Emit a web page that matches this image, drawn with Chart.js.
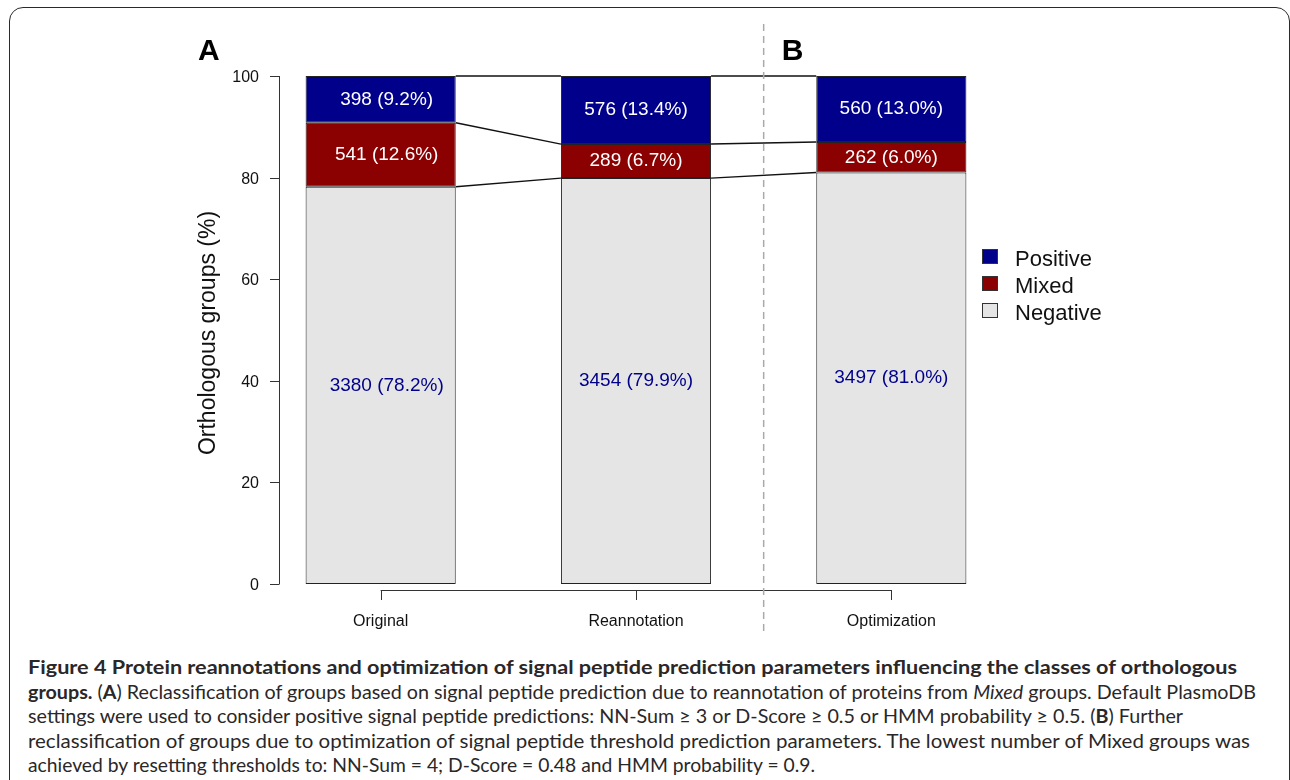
<!DOCTYPE html>
<html>
<head>
<meta charset="utf-8">
<script src="https://cdn.jsdelivr.net/npm/chart.js@4.4.1/dist/chart.umd.min.js"></script>
<style>
html,body{margin:0;padding:0;background:#fff;}
#wrap{position:relative;width:1290px;height:780px;overflow:hidden;background:#fff;}
#frame{position:absolute;left:9px;top:7px;width:1281px;height:820px;border:1.6px solid #2a2a2a;border-radius:14px;box-sizing:border-box;}
#c{position:absolute;left:0;top:0;width:1290px;height:650px;}
.cap{position:absolute;left:28px;width:3000px;font-family:Lato,"Open Sans",sans-serif;font-size:19px;color:#2a2728;white-space:nowrap;transform-origin:0 50%;}
.cap span.t{display:inline;}
.cap b{font-weight:700;}
.ge{font-family:Lato,"DejaVu Sans",sans-serif;}
</style>
</head>
<body>
<div id="wrap">
  <div id="frame"></div>
  <canvas id="c" width="1290" height="650"></canvas>
  <div class="cap" style="top:655px"><span class="t"><b>Figure 4 Protein reannotations and optimization of signal peptide prediction parameters influencing the classes of orthologous</b></span></div>
  <div class="cap" style="top:680px"><span class="t"><b>groups.</b> (<b>A</b>) Reclassification of groups based on signal peptide prediction due to reannotation of proteins from <i>Mixed</i> groups. Default PlasmoDB</span></div>
  <div class="cap" style="top:704px"><span class="t">settings were used to consider positive signal peptide predictions: NN-Sum <span class="ge">≥</span> 3 or D-Score <span class="ge">≥</span> 0.5 or HMM probability <span class="ge">≥</span> 0.5. (<b>B</b>) Further</span></div>
  <div class="cap" style="top:729px"><span class="t">reclassification of groups due to optimization of signal peptide threshold prediction parameters. The lowest number of Mixed groups was</span></div>
  <div class="cap" style="top:753px"><span class="t">achieved by resetting thresholds to: NN-Sum = 4; D-Score = 0.48 and HMM probability = 0.9.</span></div>
</div>
<script>
// ---- data ----
const categories = ['Original', 'Reannotation', 'Optimization'];
const seriesNames = ['Positive', 'Mixed', 'Negative'];
const negativeCounts = [3380, 3454, 3497];
const negativePct = [78.2, 79.9, 81.0];
const mixedCounts = [541, 289, 262];
const mixedPct = [12.6, 6.7, 6.0];
const positiveCounts = [398, 576, 560];
const positivePct = [9.2, 13.4, 13.0];
const yTicks = [0, 20, 40, 60, 80, 100];
const yTitle = 'Orthologous groups (%)';
const panelLabels = ['A', 'B'];

// ---- caption width fitting ----
const capWidths = [1209, 1228, 1155, 1222, 787];
function fitCaption() {
  document.querySelectorAll('.cap').forEach((el, i) => {
    el.style.transform = 'none';
    const span = el.querySelector('.t');
    const w = span.getBoundingClientRect().width;
    if (w > 0) el.style.transform = 'scaleX(' + (capWidths[i] / w) + ')';
  });
}
fitCaption();
if (document.fonts && document.fonts.ready) document.fonts.ready.then(fitCaption);
window.addEventListener('load', fitCaption);

const COL_POS = '#00008B', COL_MIX = '#8B0000', COL_NEG = '#E5E5E5';
const FONT = '"Liberation Sans", Arial, Helvetica, sans-serif';

const overlay = {
  id: 'overlay',
  afterDatasetsDraw(chart) {
    const ctx = chart.ctx;
    const y = chart.scales.y;
    const ca = chart.chartArea;
    const mNeg = chart.getDatasetMeta(0).data;
    const counts = [negativeCounts, mixedCounts, positiveCounts];
    const pcts = [negativePct, mixedPct, positivePct];
    ctx.save();

    // connecting lines between bars
    ctx.strokeStyle = '#111';
    ctx.lineWidth = 1.4;
    for (let i = 0; i < categories.length - 1; i++) {
      const a = mNeg[i], b = mNeg[i + 1];
      const xa = a.x + a.width / 2, xb = b.x - b.width / 2;
      const levA = [negativePct[i], negativePct[i] + mixedPct[i], negativePct[i] + mixedPct[i] + positivePct[i]];
      const levB = [negativePct[i + 1], negativePct[i + 1] + mixedPct[i + 1], negativePct[i + 1] + mixedPct[i + 1] + positivePct[i + 1]];
      for (let k = 0; k < 3; k++) {
        ctx.beginPath();
        ctx.moveTo(xa, y.getPixelForValue(Math.min(levA[k], 100)));
        ctx.lineTo(xb, y.getPixelForValue(Math.min(levB[k], 100)));
        ctx.stroke();
      }
    }

    // segment labels
    ctx.font = '19px ' + FONT;
    ctx.textAlign = 'center';
    ctx.textBaseline = 'middle';
    const labelShift = [6, 0, 0];
    for (let d = 0; d < 3; d++) {
      const meta = chart.getDatasetMeta(d).data;
      ctx.fillStyle = d === 0 ? COL_POS : '#ffffff';
      for (let i = 0; i < categories.length; i++) {
        const el = meta[i];
        const cy = (el.y + el.base) / 2;
        ctx.fillText(counts[d][i] + ' (' + pcts[d][i].toFixed(1) + '%)', el.x + labelShift[i], cy);
      }
    }

    // y axis (R style, detached)
    const axX = ca.left + 26;
    ctx.strokeStyle = '#333';
    ctx.lineWidth = 1;
    ctx.beginPath();
    ctx.moveTo(axX + 0.5, y.getPixelForValue(yTicks[0]));
    ctx.lineTo(axX + 0.5, y.getPixelForValue(yTicks[yTicks.length - 1]));
    ctx.stroke();
    ctx.fillStyle = '#111';
    ctx.font = '16px ' + FONT;
    ctx.textAlign = 'right';
    ctx.textBaseline = 'middle';
    yTicks.forEach(t => {
      const py = Math.round(y.getPixelForValue(t)) + 0.5;
      ctx.beginPath();
      ctx.moveTo(axX - 9, py);
      ctx.lineTo(axX + 0.5, py);
      ctx.stroke();
      ctx.fillText(String(t), axX - 20, py + 1);
    });

    // y title
    ctx.save();
    ctx.translate(axX - 64, (y.getPixelForValue(0) + y.getPixelForValue(100)) / 2 + 3);
    ctx.rotate(-Math.PI / 2);
    ctx.textAlign = 'center';
    ctx.textBaseline = 'alphabetic';
    ctx.font = '23px ' + FONT;
    ctx.fillStyle = '#111';
    ctx.fillText(yTitle, 0, 0);
    ctx.restore();

    // x axis (R style)
    const axY = y.getPixelForValue(0) + 6;
    const x0 = mNeg[0].x, x1 = mNeg[categories.length - 1].x;
    ctx.beginPath();
    ctx.moveTo(x0, axY + 0.5);
    ctx.lineTo(x1, axY + 0.5);
    ctx.stroke();
    ctx.font = '16px ' + FONT;
    ctx.textAlign = 'center';
    ctx.textBaseline = 'alphabetic';
    for (let i = 0; i < categories.length; i++) {
      const px = Math.round(mNeg[i].x) + 0.5;
      ctx.beginPath();
      ctx.moveTo(px, axY);
      ctx.lineTo(px, axY + 10);
      ctx.stroke();
      ctx.fillText(categories[i], mNeg[i].x, axY + 36);
    }

    // dashed separator between panels
    const sep = (mNeg[1].x + mNeg[1].width / 2 + mNeg[2].x - mNeg[2].width / 2) / 2;
    ctx.strokeStyle = '#aaaaaa';
    ctx.lineWidth = 1.5;
    ctx.setLineDash([7, 5]);
    ctx.beginPath();
    ctx.moveTo(sep, 24);
    ctx.lineTo(sep, 632);
    ctx.stroke();
    ctx.setLineDash([]);

    // panel letters
    ctx.fillStyle = '#000';
    ctx.font = 'bold 30px ' + FONT;
    ctx.textAlign = 'left';
    ctx.textBaseline = 'alphabetic';
    ctx.fillText(panelLabels[0], 198, 60);
    ctx.fillText(panelLabels[1], sep + 18, 60);

    // legend
    const legCols = [COL_POS, COL_MIX, COL_NEG];
    const legX = ca.right - 37;
    ctx.font = '22px ' + FONT;
    for (let k = 0; k < 3; k++) {
      const base = 266 + k * 27;
      ctx.fillStyle = legCols[k];
      ctx.fillRect(legX, base - 17, 16, 15);
      ctx.strokeStyle = '#333';
      ctx.lineWidth = 1;
      ctx.strokeRect(legX + 0.5, base - 16.5, 15, 14);
      ctx.fillStyle = '#111';
      ctx.fillText(seriesNames[k], legX + 33, base);
    }
    ctx.restore();
  }
};

new Chart(document.getElementById('c'), {
  type: 'bar',
  data: {
    labels: categories,
    datasets: [
      { label: 'Negative', data: negativePct, backgroundColor: COL_NEG },
      { label: 'Mixed', data: mixedPct, backgroundColor: COL_MIX },
      { label: 'Positive', data: positivePct, backgroundColor: COL_POS }
    ]
  },
  options: {
    responsive: false,
    animation: false,
    devicePixelRatio: 1,
    layout: { padding: { left: 253, right: 271, top: 76, bottom: 66 } },
    datasets: {
      bar: {
        barPercentage: 0.588,
        categoryPercentage: 1,
        borderColor: '#222',
        borderWidth: 1,
        borderSkipped: false
      }
    },
    scales: {
      x: { stacked: true, display: false },
      y: { stacked: true, display: false, min: 0, max: 100 }
    },
    plugins: { legend: { display: false }, tooltip: { enabled: false } }
  },
  plugins: [overlay]
});
</script>
</body>
</html>
